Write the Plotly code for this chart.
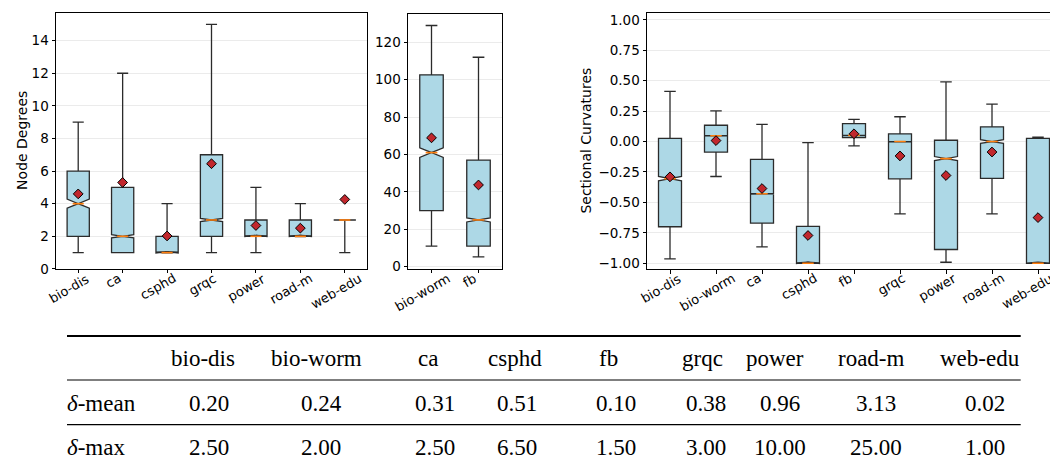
import plotly.graph_objects as go

# ---------------- data ----------------
deg_cats = ['bio-dis', 'ca', 'csphd', 'grqc', 'power', 'road-m', 'web-edu']
deg_low = [1, 1, 1, 1, 1, 2, 1]
deg_q1 = [2, 1, 1, 2, 2, 2, 3]
deg_med = [4, 2, 1, 3, 2, 2, 3]
deg_q3 = [6, 5, 2, 7, 3, 3, 3]
deg_high = [9, 12, 4, 15, 5, 4, 3]
deg_mean = [4.6, 5.3, 2.02, 6.45, 2.66, 2.5, 4.26]
deg_notch = [0.28, 0.1, 0.02, 0.1, 0.02, 0.02, 0.0]

big_cats = ['bio-worm', 'fb']
big_low = [11, 5.2]
big_q1 = [30, 11]
big_med = [61, 25]
big_q3 = [102.6, 57]
big_high = [129, 112]
big_mean = [68.9, 43.7]
big_notch = [2.6, 1.1]

curv_cats = ['bio-dis', 'bio-worm', 'ca', 'csphd', 'fb', 'grqc', 'power', 'road-m', 'web-edu']
curv_low = [-0.965, -0.287, -0.866, -1.0, -0.035, -0.595, -0.992, -0.595, -1.0]
curv_q1 = [-0.70, -0.086, -0.67, -1.0, 0.032, -0.306, -0.887, -0.303, -1.0]
curv_med = [-0.305, 0.048, -0.429, -1.0, 0.051, 0.0, -0.14, 0.0, -1.0]
curv_q3 = [0.027, 0.134, -0.147, -0.697, 0.147, 0.064, 0.011, 0.121, 0.027]
curv_high = [0.413, 0.252, 0.142, -0.008, 0.182, 0.204, 0.49, 0.308, 0.036]
curv_mean = [-0.29, 0.008, -0.386, -0.772, 0.064, -0.118, -0.279, -0.086, -0.625]
curv_notch = [0.018, 0.002, 0.002, 0.002, 0.002, 0.002, 0.017, 0.015, 0.0]

table_cols = ['bio-dis', 'bio-worm', 'ca', 'csphd', 'fb', 'grqc', 'power', 'road-m', 'web-edu']
delta_mean = ['0.20', '0.24', '0.31', '0.51', '0.10', '0.38', '0.96', '3.13', '0.02']
delta_max = ['2.50', '2.00', '2.50', '6.50', '1.50', '3.00', '10.00', '25.00', '1.00']
row_labels = ['<i>δ</i>-mean', '<i>δ</i>-max']

# ---------------- layout constants ----------------
W, H = 1058, 467
def px(x):
    return x / W
def py(y):
    return 1 - y / H

TICK_FONT = dict(family='DejaVu Sans', size=13.5, color='black')
CAT_FONT = dict(family='DejaVu Sans', size=13, color='black')
TITLE_FONT = dict(family='DejaVu Sans', size=14, color='black')
TABLE_FONT = dict(family='Liberation Serif', size=23, color='black')
BOX_FILL = '#add8e6'
EDGE = '#2b2b2b'
MEDIAN = '#ff7f0e'
MEAN_FILL = '#c1272d'
LABEL_XSHIFT = -9

fig = go.Figure()

panels = [
    dict(cats=deg_cats, low=deg_low, q1=deg_q1, med=deg_med, q3=deg_q3, high=deg_high,
         mean=deg_mean, notch=deg_notch, xa='x', ya='y', edge_shift=0),
    dict(cats=big_cats, low=big_low, q1=big_q1, med=big_med, q3=big_q3, high=big_high,
         mean=big_mean, notch=big_notch, xa='x2', ya='y2', edge_shift=0),
    dict(cats=curv_cats, low=curv_low, q1=curv_q1, med=curv_med, q3=curv_q3, high=curv_high,
         mean=curv_mean, notch=curv_notch, xa='x3', ya='y3', edge_shift=-2),
]

annotations = []
for p in panels:
    pos = list(range(1, len(p['cats']) + 1))
    fig.add_trace(go.Box(
        x=pos, q1=p['q1'], median=p['med'], q3=p['q3'],
        lowerfence=p['low'], upperfence=p['high'], mean=p['mean'],
        notchspan=p['notch'], notched=True, notchwidth=0.5,
        width=0.5, whiskerwidth=0.5, boxpoints=False, boxmean=False,
        fillcolor=BOX_FILL, line=dict(color=EDGE, width=1.3),
        xaxis=p['xa'], yaxis=p['ya'], showlegend=False, hoverinfo='skip'))
    mx, my = [], []
    for xpos, m in zip(pos, p['med']):
        mx += [xpos - 0.125, xpos + 0.125, None]
        my += [m, m, None]
    fig.add_trace(go.Scatter(x=mx, y=my, mode='lines',
                             line=dict(color=MEDIAN, width=1.6),
                             xaxis=p['xa'], yaxis=p['ya'], showlegend=False, hoverinfo='skip'))
    fig.add_trace(go.Scatter(x=pos, y=p['mean'], mode='markers',
                             marker=dict(symbol='diamond', size=7.5, color=MEAN_FILL,
                                         line=dict(color='black', width=1)),
                             xaxis=p['xa'], yaxis=p['ya'], showlegend=False, hoverinfo='skip'))
    for i, (xpos, c) in enumerate(zip(pos, p['cats'])):
        shift = LABEL_XSHIFT + (p['edge_shift'] if i == len(pos) - 1 else 0)
        annotations.append(dict(x=xpos, xref=p['xa'], y=py(264), yref='paper',
                                text=c, showarrow=False, textangle=-30, xshift=shift,
                                xanchor='center', yanchor='top', font=CAT_FONT))

axis_common = dict(showline=True, mirror=True, linecolor='black', linewidth=1,
                   ticks='outside', ticklen=3.5, tickwidth=1, tickcolor='black',
                   tickfont=TICK_FONT, zeroline=False)

layout_axes = dict(
    xaxis=dict(domain=[px(48), px(359)], range=[0.5, 7.5], tickvals=list(range(1, 8)),
               showticklabels=False, showgrid=False, anchor='y', **axis_common),
    yaxis=dict(domain=[py(265), py(4)], range=[0, 15.7], dtick=2, tick0=0,
               showgrid=True, gridcolor='#ebebeb', gridwidth=1, anchor='x', **axis_common),
    xaxis2=dict(domain=[px(400), px(494)], range=[0.5, 2.5], tickvals=[1, 2],
                showticklabels=False, showgrid=False, anchor='y2', **axis_common),
    yaxis2=dict(domain=[py(265), py(5)], range=[-1.2, 135.2], dtick=20, tick0=0,
                showgrid=True, gridcolor='#ebebeb', gridwidth=1, anchor='x2', **axis_common),
    xaxis3=dict(domain=[px(639), px(1053)], range=[0.5, 9.5], tickvals=list(range(1, 10)),
                showticklabels=False, showgrid=False, anchor='y3', **axis_common),
    yaxis3=dict(domain=[py(265.3), py(4.3)], range=[-1.049, 1.055], dtick=0.25, tick0=0,
                tickformat='.2f', showgrid=True, gridcolor='#ebebeb', gridwidth=1,
                anchor='x3', **axis_common),
)

# axis titles
annotations.append(dict(x=px(14), y=py(134.5), xref='paper', yref='paper', text='Node Degrees',
                        textangle=-90, showarrow=False, xanchor='center', yanchor='middle',
                        font=TITLE_FONT))
annotations.append(dict(x=px(578.5), y=py(134.7), xref='paper', yref='paper',
                        text='Sectional Curvatures', textangle=-90, showarrow=False,
                        xanchor='center', yanchor='middle', font=TITLE_FONT))

# ---------------- table ----------------
head_x = [195.3, 308, 420, 507.5, 600, 694, 767, 863, 971.7]
val_x = [200.8, 313, 427, 509, 607.5, 697.5, 772, 868, 977]
row_y = [402, 447]
shapes = []
for yy, w in [(333.3, 2), (378.3, 1.2), (423.7, 1.2)]:
    shapes.append(dict(type='line', xref='paper', yref='paper', x0=px(59), x1=px(1012.7),
                       y0=py(yy), y1=py(yy), line=dict(color='black', width=w)))
for hx, name in zip(head_x, table_cols):
    annotations.append(dict(x=px(hx), y=py(356.5), xref='paper', yref='paper', text=name,
                            showarrow=False, xanchor='center', yanchor='middle', font=TABLE_FONT))
for ry, lab, vals in zip(row_y, row_labels, [delta_mean, delta_max]):
    annotations.append(dict(x=px(57), y=py(ry), xref='paper', yref='paper', text=lab,
                            showarrow=False, xanchor='left', yanchor='middle', font=TABLE_FONT))
    for vx, v in zip(val_x, vals):
        annotations.append(dict(x=px(vx), y=py(ry), xref='paper', yref='paper', text=v,
                                showarrow=False, xanchor='center', yanchor='middle',
                                font=TABLE_FONT))

fig.update_layout(
    width=W, height=H, autosize=False,
    margin=dict(l=0, r=0, t=0, b=0),
    paper_bgcolor='white', plot_bgcolor='white',
    boxmode='overlay', showlegend=False,
    annotations=annotations, shapes=shapes,
    **layout_axes)

fig.write_html('out.html')
